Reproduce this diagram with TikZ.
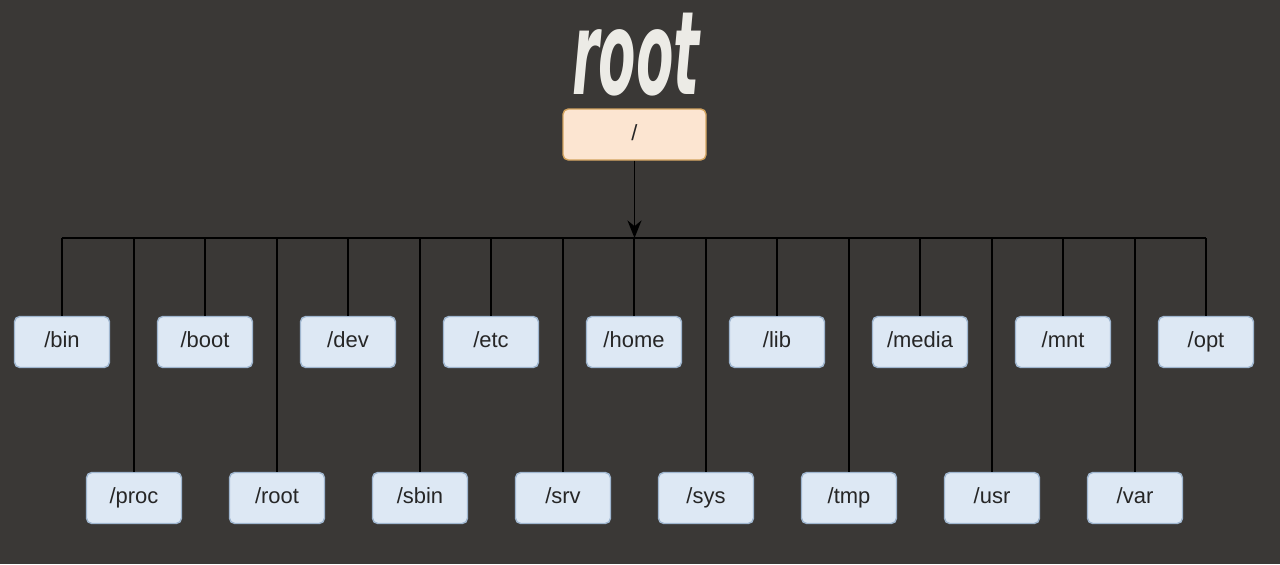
\documentclass[tikz,border=0pt]{standalone}
\usepackage{fontspec}
\setmainfont{Liberation Sans}
\newfontfamily\titlefont{DejaVu Sans}
\usetikzlibrary{arrows.meta}

\definecolor{bgdark}{HTML}{3A3836}
\definecolor{dirfill}{HTML}{DDE8F4}
\definecolor{dirline}{HTML}{9FB6CF}
\definecolor{rootfill}{HTML}{FCE5D1}
\definecolor{rootline}{HTML}{D3A35E}
\definecolor{titlegray}{HTML}{ECEBE6}

\tikzset{
  dirbox/.style={draw=dirline, fill=dirfill, line width=0.8pt, rounded corners=3pt,
    minimum width=1.9cm, minimum height=1.02cm, inner sep=0pt,
    text height=9pt, text depth=2.6pt, text=black!85,
    font=\fontsize{12.5}{14}\selectfont},
  rootbox/.style={dirbox, draw=rootline, fill=rootfill, minimum width=2.86cm},
  link/.style={black, line width=1.1pt}
}

\begin{document}
\begin{tikzpicture}
\fill[bgdark] (0,0) rectangle (25.6,-11.28);
\useasboundingbox (0,0) rectangle (25.6,-11.28);
% titulo y raiz
\node (title) at (12.72,-1.1) [text=titlegray, xscale=0.47, transform shape,
  font=\titlefont\bfseries\itshape\fontsize{66}{70}\selectfont] {root};
\node (slash) at (12.69,-2.69) [rootbox] {/};
% primera fila
\node (bin) at (1.24,-6.84) [dirbox] {/bin};
\node (boot) at (4.10,-6.84) [dirbox] {/boot};
\node (dev) at (6.96,-6.84) [dirbox] {/dev};
\node (etc) at (9.82,-6.84) [dirbox] {/etc};
\node (home) at (12.68,-6.84) [dirbox] {/home};
\node (lib) at (15.54,-6.84) [dirbox] {/lib};
\node (media) at (18.40,-6.84) [dirbox] {/media};
\node (mnt) at (21.26,-6.84) [dirbox] {/mnt};
\node (opt) at (24.12,-6.84) [dirbox] {/opt};
% segunda fila
\node (proc) at (2.68,-9.96) [dirbox] {/proc};
\node (rootdir) at (5.54,-9.96) [dirbox] {/root};
\node (sbin) at (8.40,-9.96) [dirbox] {/sbin};
\node (srv) at (11.26,-9.96) [dirbox] {/srv};
\node (sys) at (14.12,-9.96) [dirbox] {/sys};
\node (tmp) at (16.98,-9.96) [dirbox] {/tmp};
\node (usr) at (19.84,-9.96) [dirbox] {/usr};
\node (var) at (22.70,-9.96) [dirbox] {/var};
% bus horizontal
\coordinate (busL) at (1.24,-4.76);
\coordinate (busR) at (24.12,-4.76);
\draw[link] (busL) -- (busR);
\draw[link, -{Stealth[length=10pt,width=8pt]}] (slash.south) -- (slash.south |- busL);
\foreach \d in {bin,boot,dev,etc,home,lib,media,mnt,opt,proc,rootdir,sbin,srv,sys,tmp,usr,var}
  \draw[link] (\d.north |- busL) -- (\d.north);
\end{tikzpicture}
\end{document}
